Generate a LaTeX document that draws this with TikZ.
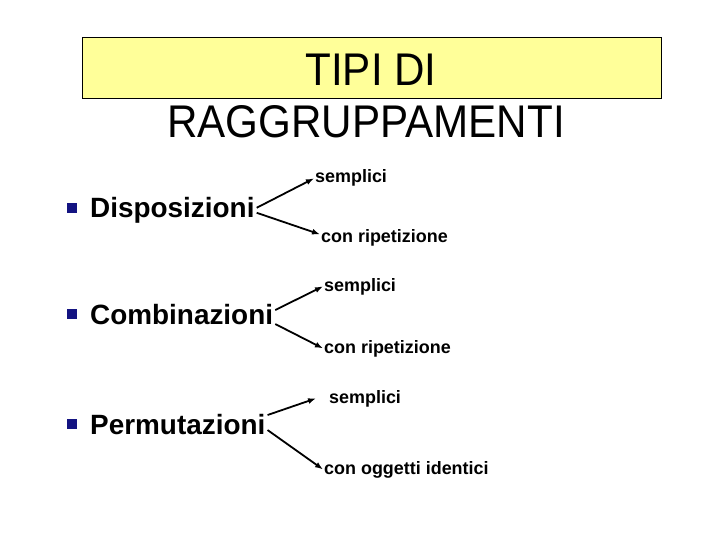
\documentclass[tikz,border=0pt]{standalone}
\usepackage{fontspec}
\setmainfont{Liberation Sans}
\usetikzlibrary{arrows.meta,positioning}

\definecolor{titlefill}{RGB}{255,255,153}
\definecolor{bulletblue}{RGB}{20,20,130}

\tikzset{
  heading/.style={anchor=base,font=\fontsize{46}{52}\selectfont,inner sep=0pt,xscale=0.92,transform shape},
  entry/.style={anchor=base west,font=\bfseries\fontsize{28}{32}\selectfont,inner sep=2bp},
  kind/.style={anchor=base west,font=\bfseries\fontsize{18}{21}\selectfont,inner sep=1bp},
  bul/.style={fill=bulletblue,minimum size=10bp,inner sep=0pt},
  arr/.style={-{Latex[length=8bp,width=6bp]},line width=1.8bp},
}

\begin{document}
\begin{tikzpicture}[x=1bp,y=-1bp]
  \useasboundingbox (0,0) rectangle (720,540);
  \node[draw,fill=titlefill,line width=0.8bp,minimum width=579bp,minimum height=61bp,inner sep=0pt] (box) at (371.5,67.5) {};
  \node[heading] (t1) at (371,86) {TIPI DI};
  \node[heading] (t2) at (366,138) {RAGGRUPPAMENTI};

  \node[bul] (b1) at (72,208) {};
  \node[bul] (b2) at (72,314) {};
  \node[bul] (b3) at (72,424) {};

  \node[entry] (dis) at (88,218) {Disposizioni};
  \node[entry] (com) at (88,324) {Combinazioni};
  \node[entry] (per) at (88,434) {Permutazioni};

  \node[kind] (dis1) at (314,183) {semplici};
  \node[kind] (dis2) at (320,243) {con ripetizione};
  \node[kind] (com1) at (323,291) {semplici};
  \node[kind] (com2) at (323,353) {con ripetizione};
  \node[kind] (per1) at (328,403) {semplici};
  \node[kind] (per2) at (323,474) {con oggetti identici};

  \draw[arr] ([yshift=3bp]dis.east) -- (dis1.west);
  \draw[arr] ([yshift=-2bp]dis.east) -- ([yshift=4bp]dis2.west);
  \draw[arr] ([yshift=4bp]com.east) -- (com1.west);
  \draw[arr] ([yshift=-10bp]com.east) -- (com2.west);
  \draw[arr] ([yshift=9bp]per.east) -- ([xshift=-12bp]per1.west);
  \draw[arr] ([yshift=-6bp]per.east) -- (per2.west);
\end{tikzpicture}
\end{document}
